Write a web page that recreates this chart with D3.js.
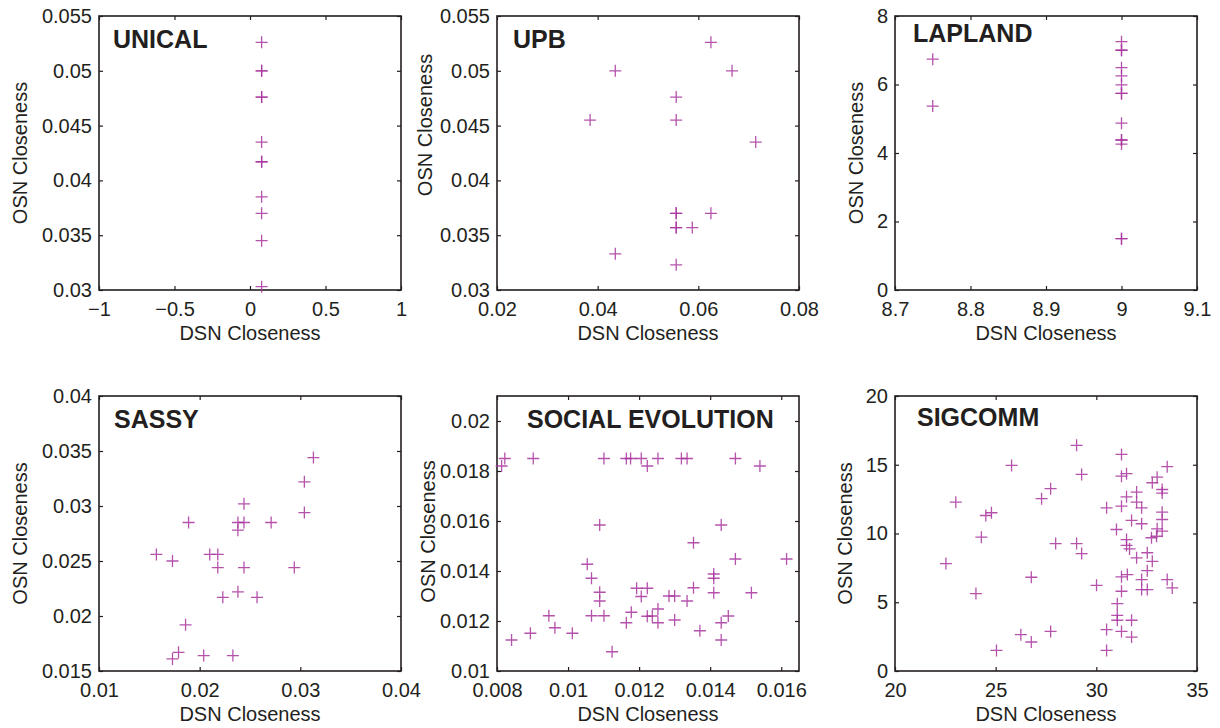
<!DOCTYPE html>
<html>
<head>
<meta charset="utf-8">
<script src="https://cdn.jsdelivr.net/npm/d3@7"></script>
<style>
  html, body { margin: 0; padding: 0; background: #fff; }
  svg { display: block; font-family: "Liberation Sans", Arial, Helvetica, sans-serif; }
</style>
</head>
<body>
<svg id="chart" width="1220" height="728"></svg>
<script>
// ---------------- DATA ----------------
const titles = ["UNICAL", "UPB", "LAPLAND", "SASSY", "SOCIAL EVOLUTION", "SIGCOMM"];
const xLabel = "DSN Closeness";
const yLabel = "OSN Closeness";

// UNICAL
const unicalX = [0.077, 0.077, 0.077, 0.077, 0.077, 0.077, 0.077, 0.077, 0.077, 0.077, 0.077, 0.077];
const unicalY = [0.0526, 0.05, 0.05, 0.0476, 0.0476, 0.0435, 0.0417, 0.0417, 0.0385, 0.037, 0.0345, 0.0303];
const unicalXDomain = [-1, 1];
const unicalYDomain = [0.03, 0.055];
const unicalXTicks = [-1, -0.5, 0, 0.5, 1];
const unicalXTickLabels = ["\u22121", "\u22120.5", "0", "0.5", "1"];
const unicalYTicks = [0.03, 0.035, 0.04, 0.045, 0.05, 0.055];
const unicalYTickLabels = ["0.03", "0.035", "0.04", "0.045", "0.05", "0.055"];

// UPB
const upbX = [0.0625, 0.0435, 0.0667, 0.0556, 0.0385, 0.0556, 0.0714, 0.0556, 0.0556, 0.0625, 0.0556, 0.0556, 0.0588, 0.0435, 0.0556];
const upbY = [0.0526, 0.05, 0.05, 0.0476, 0.0455, 0.0455, 0.0435, 0.037, 0.037, 0.037, 0.0357, 0.0357, 0.0357, 0.0333, 0.0323];
const upbXDomain = [0.02, 0.08];
const upbYDomain = [0.03, 0.055];
const upbXTicks = [0.02, 0.04, 0.06, 0.08];
const upbXTickLabels = ["0.02", "0.04", "0.06", "0.08"];
const upbYTicks = [0.03, 0.035, 0.04, 0.045, 0.05, 0.055];
const upbYTickLabels = ["0.03", "0.035", "0.04", "0.045", "0.05", "0.055"];

// LAPLAND
const laplandX = [8.75, 8.75, 9, 9, 9, 9, 9, 9, 9, 9, 9, 9, 9, 9, 9, 9];
const laplandY = [6.74, 5.37, 7.25, 7.0, 7.0, 6.49, 6.25, 5.99, 5.74, 5.74, 4.87, 4.38, 4.38, 4.26, 1.5, 1.5];
const laplandXDomain = [8.7, 9.1];
const laplandYDomain = [0, 8];
const laplandXTicks = [8.7, 8.8, 8.9, 9, 9.1];
const laplandXTickLabels = ["8.7", "8.8", "8.9", "9", "9.1"];
const laplandYTicks = [0, 2, 4, 6, 8];
const laplandYTickLabels = ["0", "2", "4", "6", "8"];

// SASSY
const sassyX = [0.0313, 0.0304, 0.0304, 0.0244, 0.0189, 0.0238, 0.0244, 0.0271, 0.0238, 0.0157, 0.0173, 0.0210,
                0.0218, 0.0218, 0.0244, 0.0294, 0.0238, 0.0223, 0.0257, 0.0186, 0.0179, 0.0173, 0.0204, 0.0233];
const sassyY = [0.0344, 0.0322, 0.0294, 0.0302, 0.0285, 0.0285, 0.0285, 0.0285, 0.0278, 0.0256, 0.0250, 0.0256,
                0.0256, 0.0244, 0.0244, 0.0244, 0.0222, 0.0217, 0.0217, 0.0192, 0.0167, 0.0161, 0.0164, 0.0164];
const sassyXDomain = [0.01, 0.04];
const sassyYDomain = [0.015, 0.04];
const sassyXTicks = [0.01, 0.02, 0.03, 0.04];
const sassyXTickLabels = ["0.01", "0.02", "0.03", "0.04"];
const sassyYTicks = [0.015, 0.02, 0.025, 0.03, 0.035, 0.04];
const sassyYTickLabels = ["0.015", "0.02", "0.025", "0.03", "0.035", "0.04"];

// SOCIAL EVOLUTION
const socialX = [0.00822, 0.00813, 0.00902, 0.01101, 0.01164, 0.01176, 0.01206, 0.01223, 0.01089, 0.01054,
                 0.01066, 0.01089, 0.01089, 0.01066, 0.01101, 0.00946, 0.00963, 0.00894, 0.01012, 0.00841,
                 0.01124, 0.01164, 0.01178, 0.01193, 0.01206, 0.01223, 0.01223, 0.01253, 0.01319, 0.01335,
                 0.01471, 0.0154, 0.01431, 0.01353, 0.01471, 0.01615, 0.0141, 0.0141, 0.0141, 0.01516,
                 0.01353, 0.01284, 0.013, 0.01335, 0.01253, 0.01237, 0.01253, 0.013, 0.01371, 0.01431,
                 0.01451, 0.01431];
const socialY = [0.0185, 0.0182, 0.0185, 0.0185, 0.0185, 0.0185, 0.0185, 0.0182, 0.01584, 0.01427,
                 0.01371, 0.01315, 0.0128, 0.01221, 0.01221, 0.01221, 0.01173, 0.01151, 0.01151, 0.01124,
                 0.01077, 0.01193, 0.01235, 0.01331, 0.01298, 0.01331, 0.01219, 0.0185, 0.0185, 0.0185,
                 0.0185, 0.0182, 0.01584, 0.01513, 0.01448, 0.01448, 0.01388, 0.01371, 0.01313, 0.01313,
                 0.01333, 0.013, 0.013, 0.0128, 0.01248, 0.0122, 0.01193, 0.01204, 0.01161, 0.01193,
                 0.0122, 0.01124];
const socialXDomain = [0.008, 0.0165];
const socialYDomain = [0.01, 0.021];
const socialXTicks = [0.008, 0.01, 0.012, 0.014, 0.016];
const socialXTickLabels = ["0.008", "0.01", "0.012", "0.014", "0.016"];
const socialYTicks = [0.01, 0.012, 0.014, 0.016, 0.018, 0.02];
const socialYTickLabels = ["0.01", "0.012", "0.014", "0.016", "0.018", "0.02"];

// SIGCOMM
const sigcommX = [25.79, 23.02, 24.51, 24.79, 24.29, 22.53, 24.02, 27.28, 27.73, 26.77, 26.25, 26.77, 25.04, 27.73,
                  29.02, 29.27, 27.98, 29.02, 29.27, 30.01, 30.51, 30.51, 30.51, 31.25, 31.25, 31.5, 31.25, 31.5,
                  31.0, 31.5, 31.5, 31.65, 31.75, 32.0, 32.0, 32.25, 32.25, 32.0, 32.53, 32.78, 32.53, 32.74,
                  32.99, 33.02, 33.27, 33.27, 33.27, 33.27, 33.27, 32.78, 33.02, 33.52, 31.25, 31.54, 31.25,
                  32.25, 32.25, 32.53, 33.52, 33.77, 31.04, 31.04, 31.04, 31.75, 31.25, 31.75];
const sigcommY = [14.95, 12.28, 11.31, 11.51, 9.73, 7.81, 5.63, 12.53, 13.26, 6.82, 2.64, 2.11, 1.5, 2.88,
                  16.41, 14.3, 9.27, 9.27, 8.54, 6.23, 11.87, 3.01, 1.5, 15.75, 14.17, 14.35, 11.99, 12.67,
                  10.29, 9.56, 9.13, 8.88, 10.95, 13.01, 12.28, 11.87, 10.71, 8.23, 8.6, 7.98, 7.3, 9.69,
                  9.8, 10.34, 10.17, 11.02, 11.55, 12.94, 13.2, 13.69, 14.1, 14.86, 6.85, 7.01, 5.8,
                  6.65, 5.92, 5.92, 6.65, 6.04, 4.9, 4.05, 3.69, 3.69, 2.88, 2.47];
const sigcommXDomain = [20, 35];
const sigcommYDomain = [0, 20];
const sigcommXTicks = [20, 25, 30, 35];
const sigcommXTickLabels = ["20", "25", "30", "35"];
const sigcommYTicks = [0, 5, 10, 15, 20];
const sigcommYTickLabels = ["0", "5", "10", "15", "20"];

// ---------------- LAYOUT / STYLE ----------------
const colLeft = [99, 497, 895];
const rowTop = [16, 396];
const rowHeight = [274, 275];
const plotW = 302;
// per-panel text placement: [title dx, title baseline dy, ylabel baseline offset, ylabel center dy]
const textLayout = [
  [14, 32, 72, 0],
  [16, 32, 65, -28],
  [18, 26, 32, 0],
  [15, 32, 72, 0],
  [30, 32, 62, -2],
  [22, 30, 43, 0]
];
const markColor = "#a8359e";
const inkColor = "#231f20";

const panels = [
  { title: titles[0], xs: unicalX, ys: unicalY, xd: unicalXDomain, yd: unicalYDomain, xt: unicalXTicks, xl: unicalXTickLabels, yt: unicalYTicks, yl: unicalYTickLabels },
  { title: titles[1], xs: upbX, ys: upbY, xd: upbXDomain, yd: upbYDomain, xt: upbXTicks, xl: upbXTickLabels, yt: upbYTicks, yl: upbYTickLabels },
  { title: titles[2], xs: laplandX, ys: laplandY, xd: laplandXDomain, yd: laplandYDomain, xt: laplandXTicks, xl: laplandXTickLabels, yt: laplandYTicks, yl: laplandYTickLabels },
  { title: titles[3], xs: sassyX, ys: sassyY, xd: sassyXDomain, yd: sassyYDomain, xt: sassyXTicks, xl: sassyXTickLabels, yt: sassyYTicks, yl: sassyYTickLabels },
  { title: titles[4], xs: socialX, ys: socialY, xd: socialXDomain, yd: socialYDomain, xt: socialXTicks, xl: socialXTickLabels, yt: socialYTicks, yl: socialYTickLabels },
  { title: titles[5], xs: sigcommX, ys: sigcommY, xd: sigcommXDomain, yd: sigcommYDomain, xt: sigcommXTicks, xl: sigcommXTickLabels, yt: sigcommYTicks, yl: sigcommYTickLabels }
];

const svg = d3.select("#chart");

panels.forEach((p, i) => {
  const col = i % 3, row = Math.floor(i / 3);
  const left = colLeft[col], top = rowTop[row], h = rowHeight[row];
  const tl = textLayout[i];
  const g = svg.append("g").attr("transform", `translate(${left},${top})`);

  const x = d3.scaleLinear().domain(p.xd).range([0, plotW]);
  const y = d3.scaleLinear().domain(p.yd).range([h, 0]);

  const xFmt = d => p.xl[p.xt.indexOf(d)];
  const yFmt = d => p.yl[p.yt.indexOf(d)];

  // axes
  const styleAxis = sel => {
    sel.select(".domain").remove();
    sel.selectAll(".tick line").attr("stroke", inkColor).attr("stroke-width", 1.2);
    sel.selectAll(".tick text").attr("fill", inkColor).attr("font-size", 20)
      .attr("font-family", "'Liberation Sans', Arial, Helvetica, sans-serif");
  };
  g.append("g").attr("transform", `translate(0,${h})`)
    .call(d3.axisBottom(x).tickValues(p.xt).tickFormat(xFmt).tickSizeInner(-4).tickSizeOuter(0).tickPadding(12))
    .call(styleAxis);
  g.append("g")
    .call(d3.axisTop(x).tickValues(p.xt).tickFormat("").tickSizeInner(-4).tickSizeOuter(0))
    .call(styleAxis);
  g.append("g")
    .call(d3.axisLeft(y).tickValues(p.yt).tickFormat(yFmt).tickSizeInner(-4).tickSizeOuter(0).tickPadding(7))
    .call(styleAxis);
  g.append("g").attr("transform", `translate(${plotW},0)`)
    .call(d3.axisRight(y).tickValues(p.yt).tickFormat("").tickSizeInner(-4).tickSizeOuter(0))
    .call(styleAxis);

  // box
  g.append("rect").attr("x", 0).attr("y", 0).attr("width", plotW).attr("height", h)
    .attr("fill", "none").attr("stroke", inkColor).attr("stroke-width", 1.6);

  // points
  const pts = p.xs.map((v, k) => [v, p.ys[k]]);
  g.append("g").selectAll("path").data(pts).join("path")
    .attr("d", d => {
      const cx = x(d[0]), cy = y(d[1]);
      return `M${cx - 6},${cy}H${cx + 6}M${cx},${cy - 6}V${cy + 6}`;
    })
    .attr("fill", "none")
    .attr("stroke", markColor)
    .attr("stroke-opacity", 0.85)
    .attr("stroke-width", 1.3);

  // title
  g.append("text").attr("x", tl[0]).attr("y", tl[1])
    .attr("font-size", 25).attr("font-weight", "bold").attr("fill", inkColor)
    .text(p.title);

  // x label
  g.append("text").attr("x", plotW / 2).attr("y", h + 50)
    .attr("text-anchor", "middle").attr("font-size", 20).attr("fill", inkColor)
    .text(xLabel);

  // y label
  g.append("text")
    .attr("transform", `translate(${-tl[2]},${h / 2 + tl[3]}) rotate(-90)`)
    .attr("text-anchor", "middle").attr("font-size", 20).attr("fill", inkColor)
    .text(yLabel);
});
</script>
</body>
</html>
